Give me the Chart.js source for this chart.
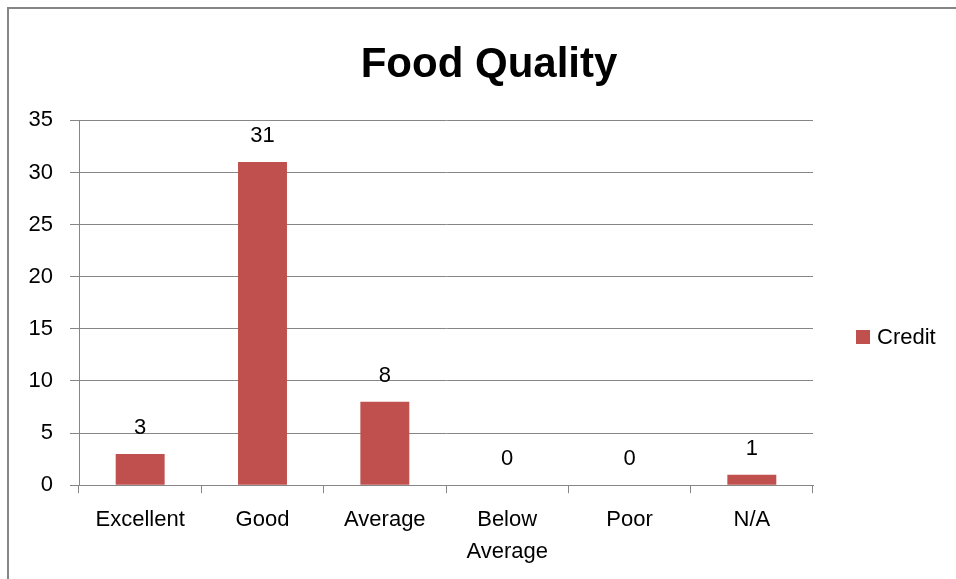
<!DOCTYPE html>
<html>
<head>
<meta charset="utf-8">
<script src="https://cdn.jsdelivr.net/npm/chart.js@4/dist/chart.umd.min.js"></script>
<style>
  html, body { margin: 0; padding: 0; background: #fff; overflow: hidden; }
  #wrap { position: relative; width: 956px; height: 579px; }
  #frame { position: absolute; left: 7px; top: 7px; width: 1000px; height: 1000px;
           border-left: 2px solid #868686; border-top: 2px solid #868686; box-sizing: border-box; }
  canvas { position: absolute; left: 0; top: 0; }
</style>
</head>
<body>
<div id="wrap">
  <div id="frame"></div>
  <canvas id="c" width="956" height="579"></canvas>
</div>
<script>
const categories = ["Excellent", "Good", "Average", ["Below", "Average"], "Poor", "N/A"];
const seriesName = "Credit";
const creditValues = [3, 31, 8, 0, 0, 1];
const yTicks = [0, 5, 10, 15, 20, 25, 30, 35];

const FONT = "'Liberation Sans', Arial, sans-serif";
const GRID = "#868686";
const BAR = "#C0504D";

const dataLabels = {
  id: "dataLabels",
  afterDatasetsDraw(chart) {
    const ctx = chart.ctx;
    const meta = chart.getDatasetMeta(0);
    ctx.save();
    ctx.font = "22px " + FONT;
    ctx.fillStyle = "#000";
    ctx.textAlign = "center";
    ctx.textBaseline = "middle";
    meta.data.forEach((el, i) => {
      ctx.fillText(String(chart.data.datasets[0].data[i]), el.x, el.y - 26);
    });
    ctx.restore();
  }
};

const customLegend = {
  id: "customLegend",
  afterDraw(chart) {
    const ctx = chart.ctx;
    const ds = chart.data.datasets[0];
    ctx.save();
    ctx.fillStyle = ds.backgroundColor;
    ctx.fillRect(856, 330, 14, 14);
    ctx.font = "22px " + FONT;
    ctx.fillStyle = "#000";
    ctx.textAlign = "left";
    ctx.textBaseline = "middle";
    ctx.fillText(ds.label, 877, 338);
    ctx.restore();
  }
};

new Chart(document.getElementById("c"), {
  type: "bar",
  data: {
    labels: categories,
    datasets: [{
      label: seriesName,
      data: creditValues,
      backgroundColor: BAR,
      borderWidth: 0,
      categoryPercentage: 1,
      barPercentage: 0.4,
      yAxisID: "y"
    }]
  },
  options: {
    responsive: false,
    animation: false,
    devicePixelRatio: 1,
    layout: { padding: { left: 22, right: 0, top: 0, bottom: 0 } },
    plugins: {
      legend: { display: false },
      tooltip: { enabled: false },
      title: {
        display: true,
        text: "Food Quality",
        color: "#000",
        font: { family: FONT, size: 42, weight: "bold", lineHeight: 1.2 },
        padding: { top: 40, bottom: 30 }
      }
    },
    scales: {
      x: {
        offset: true,
        grid: { display: true, drawOnChartArea: false, drawTicks: true, tickLength: 8, color: GRID, lineWidth: 1, offset: true },
        border: { display: true, color: GRID, width: 1 },
        ticks: { color: "#000", font: { family: FONT, size: 22, lineHeight: 1.45 }, padding: 11, maxRotation: 0, autoSkip: false }
      },
      y: {
        min: 0,
        max: 35,
        afterBuildTicks(scale) { scale.ticks = yTicks.map(v => ({ value: v })); },
        afterFit(scale) { scale.width = 57; },
        grid: { color: GRID, lineWidth: 1, tickLength: 9, drawTicks: true },
        border: { display: true, color: GRID, width: 1 },
        ticks: { color: "#000", font: { family: FONT, size: 22 }, padding: 17 }
      },
      legendSpace: {
        position: "right",
        min: 0,
        max: 35,
        display: true,
        afterFit(scale) { scale.width = 143; },
        grid: { display: false, drawOnChartArea: false },
        border: { display: false },
        ticks: { display: false }
      }
    }
  },
  plugins: [dataLabels, customLegend]
});
</script>
</body>
</html>
